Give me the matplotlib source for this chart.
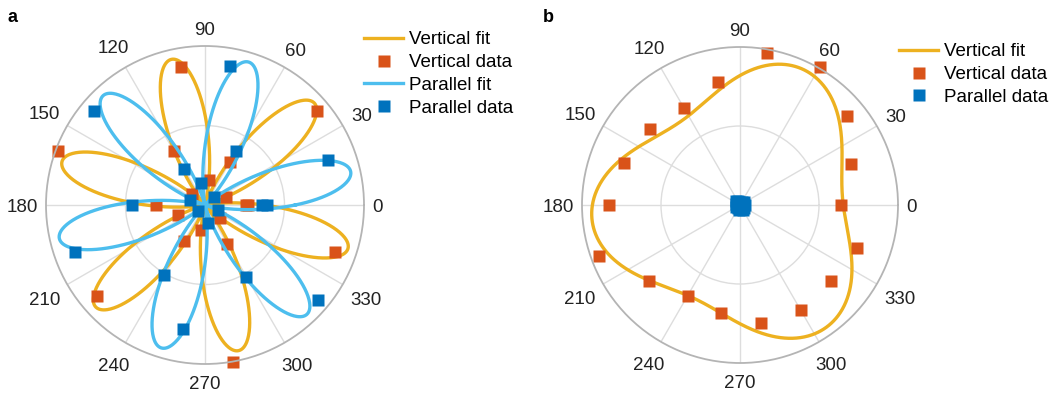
import matplotlib
matplotlib.use("Agg")
import matplotlib.pyplot as plt
import numpy as np

plt.rcParams["font.family"] = ["Liberation Sans", "DejaVu Sans"]

# MATLAB default colours
C_VFIT = "#EDB120"
C_VDAT = "#D95319"
C_PFIT = "#4DBEEE"
C_PDAT = "#0072BD"

# ---------------- panel a data (angle in degrees, normalised radius) ----------------
angles_a = [0, 20, 40, 60, 80, 100, 120, 140, 160, 180, 200, 220, 240, 260, 280, 300, 320, 340, 360]
vert_a = [0.26, 0.14, 0.92, 0.31, 0.16, 0.88, 0.395, 0.11, 0.985, 0.31, 0.18, 0.89,
          0.265, 0.16, 1.0, 0.28, 0.125, 0.87, 0.27]
par_a = [0.36, 0.82, 0.075, 0.39, 0.89, 0.14, 0.26, 0.915, 0.10, 0.46, 0.87, 0.054,
         0.51, 0.79, 0.115, 0.52, 0.925, 0.09, 0.39]

# fit parameters: r = amp * cos^2(3 (theta - phase))
fit_amp_a = 0.94
vert_phase_a = 43.0
par_phase_a = 13.0

# ---------------- panel b data ----------------
angles_b = [0, 20, 40, 60, 80, 100, 120, 140, 160, 180, 200, 220, 240, 260, 280, 300, 320, 340]
vert_b = [0.64, 0.75, 0.88, 1.01, 0.975, 0.79, 0.71, 0.745, 0.78, 0.83, 0.95, 0.75,
          0.664, 0.696, 0.76, 0.77, 0.75, 0.79]
par_b = [0.03, 0.02, 0.03, 0.025, 0.015, 0.02, 0.03, 0.035, 0.025, 0.02, 0.03, 0.02,
         0.025, 0.03, 0.02, 0.035, 0.03, 0.02]

# samples of the vertical fit curve in panel b
fit_b_deg = [0, 22, 35, 48.5, 60, 75, 90, 101, 121, 139, 155, 167, 175, 180, 190, 205,
             221.5, 240.6, 263, 279, 292, 307, 321, 333, 341]
fit_b_r = [0.654, 0.70, 0.79, 0.89, 0.925, 0.916, 0.82, 0.75, 0.65, 0.67, 0.77, 0.87,
           0.92, 0.94, 0.93, 0.86, 0.73, 0.666, 0.71, 0.81, 0.91, 0.95, 0.90, 0.79, 0.72]
harmonics_b = [1, 2, 3, 6]

theta_ticks = list(range(0, 360, 30))
FS = 13.5


def style_polar(ax):
    ax.set_ylim(0, 1)
    ax.set_rticks([0.5])
    ax.set_yticklabels([])
    ax.set_thetagrids(theta_ticks, [""] * len(theta_ticks))
    ax.grid(True, color="#dddddd", lw=1.0)
    ax.spines["polar"].set_color("#b4b4b4")
    ax.spines["polar"].set_linewidth(1.3)
    # MATLAB style labels: box kept a fixed gap clear of the outer circle
    digit_w = 0.556 * FS * 100 / 72
    half_h = 9.2
    gap = 8.5
    for a in theta_ticks:
        t = np.deg2rad(a)
        half_w = len(str(a)) * digit_w / 2
        d = gap + abs(half_w * np.cos(t)) + abs(half_h * np.sin(t))
        ax.annotate(str(a), xy=(t, 1), xytext=(d * np.cos(t), d * np.sin(t) - 0.5),
                    textcoords="offset pixels", ha="center", va="center_baseline",
                    fontsize=FS, color="#222222", annotation_clip=False)


def harmonic_fit(deg, r, ks, theta):
    t = np.deg2rad(deg)
    cols = [np.ones_like(t)]
    cols_out = [np.ones_like(theta)]
    for k in ks:
        cols += [np.cos(k * t), np.sin(k * t)]
        cols_out += [np.cos(k * theta), np.sin(k * theta)]
    coef, *_ = np.linalg.lstsq(np.column_stack(cols), np.array(r), rcond=None)
    return np.column_stack(cols_out) @ coef


fig = plt.figure(figsize=(10.57, 3.94), dpi=100)

W, H = 1057, 394
ax1 = fig.add_axes([46 / W, (H - 364) / H, 318 / W, 318 / H], projection="polar")
ax2 = fig.add_axes([582 / W, (H - 363) / H, 316 / W, 316 / H], projection="polar")

theta = np.linspace(0, 2 * np.pi, 1441)
ta = np.deg2rad(angles_a)

# panel a
ax1.plot(theta, fit_amp_a * np.cos(3 * (theta - np.deg2rad(vert_phase_a))) ** 2,
         color=C_VFIT, lw=2.4, label="Vertical fit")
ax1.plot(ta, vert_a, "s", color=C_VDAT, ms=8.5, mec="none", label="Vertical data", clip_on=False)
ax1.plot(theta, fit_amp_a * np.cos(3 * (theta - np.deg2rad(par_phase_a))) ** 2,
         color=C_PFIT, lw=2.4, label="Parallel fit")
ax1.plot(ta, par_a, "s", color=C_PDAT, ms=8.5, mec="none", label="Parallel data", clip_on=False)
style_polar(ax1)

# panel b
tb = np.deg2rad(angles_b)
ax2.plot(theta, harmonic_fit(fit_b_deg, fit_b_r, harmonics_b, theta),
         color=C_VFIT, lw=2.4, label="Vertical fit")
ax2.plot(tb, vert_b, "s", color=C_VDAT, ms=8.5, mec="none", label="Vertical data", clip_on=False)
ax2.plot(tb, par_b, "s", color=C_PDAT, ms=8.5, mec="none", label="Parallel data", clip_on=False)
style_polar(ax2)

leg_kw = dict(loc="upper left", frameon=False, fontsize=FS, handlelength=2.1,
              handletextpad=0.3, labelspacing=0.31, borderpad=0, borderaxespad=0)
fig.legend(*ax1.get_legend_handles_labels(), bbox_to_anchor=(364 / W, 1 - 31 / H), **leg_kw)
fig.legend(*ax2.get_legend_handles_labels(), bbox_to_anchor=(899 / W, 1 - 43 / H), **leg_kw)

fig.text(8 / W, 1 - 18 / H, "a", fontsize=13, fontweight="bold", va="center")
fig.text(543 / W, 1 - 17 / H, "b", fontsize=13, fontweight="bold", va="center")

fig.savefig("out.png", dpi=100)
